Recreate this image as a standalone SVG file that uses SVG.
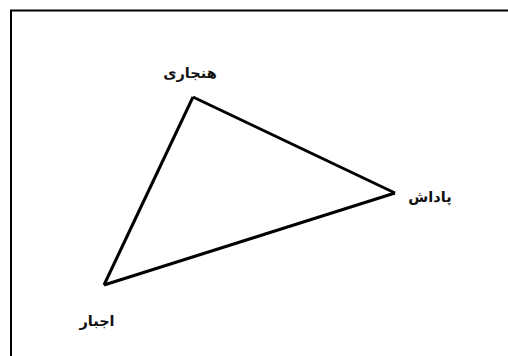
<svg xmlns="http://www.w3.org/2000/svg" width="508" height="356" viewBox="0 0 508 356">
<style>
.lbl{font-family:"DejaVu Sans","Noto Sans",sans-serif;font-weight:bold;font-size:14.5px;fill:#111;text-anchor:middle}
.edge{stroke:#000;stroke-width:3;fill:none;stroke-linejoin:miter}
</style>
<rect width="508" height="356" fill="#fff"/>
<path d="M11 356 V10.5 H508" fill="none" stroke="#000" stroke-width="2"/>
<g id="connectors">
<line class="edge" x1="193" y1="97" x2="395" y2="193"/>
<line class="edge" x1="395" y1="193" x2="104" y2="285"/>
<line class="edge" x1="104" y1="285" x2="193" y2="97"/>
</g>
<g id="node-hanjari"><text class="lbl" x="190" y="78" direction="rtl">هنجاری</text></g>
<g id="node-padash"><text class="lbl" x="430" y="202" direction="rtl">پاداش</text></g>
<g id="node-ejbar"><text class="lbl" x="97" y="326" direction="rtl">اجبار</text></g>
</svg>
